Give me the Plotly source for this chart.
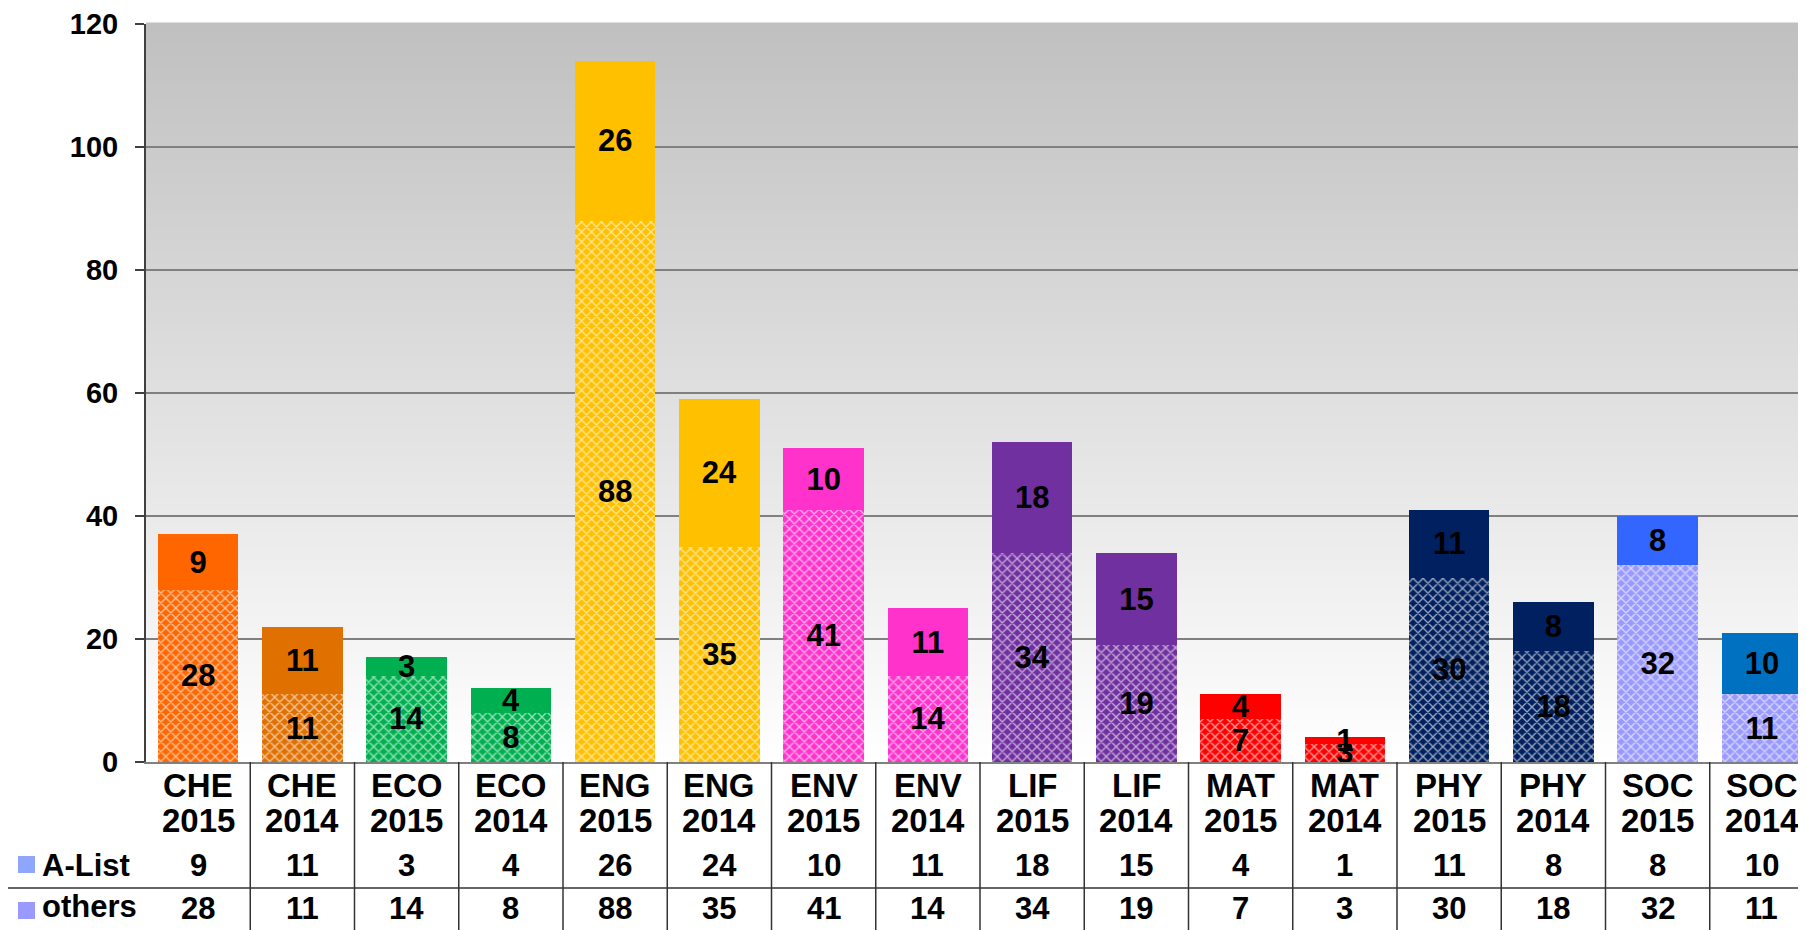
import plotly.graph_objects as go

# ---------------- data ----------------
subjects = ["CHE", "CHE", "ECO", "ECO", "ENG", "ENG", "ENV", "ENV",
            "LIF", "LIF", "MAT", "MAT", "PHY", "PHY", "SOC", "SOC"]
years = ["2015", "2014", "2015", "2014", "2015", "2014", "2015", "2014",
         "2015", "2014", "2015", "2014", "2015", "2014", "2015", "2014"]
categories = [f"{s} {y}" for s, y in zip(subjects, years)]
a_list = [9, 11, 3, 4, 26, 24, 10, 11, 18, 15, 4, 1, 11, 8, 8, 10]
others = [28, 11, 14, 8, 88, 35, 41, 14, 34, 19, 7, 3, 30, 18, 32, 11]
y_ticks = [0, 20, 40, 60, 80, 100, 120]

# ---------------- styles ----------------
a_colors = ["#FF6600", "#E07000", "#00B050", "#00B050", "#FFC000", "#FFC000",
            "#FF33CC", "#FF33CC", "#7030A0", "#7030A0", "#FF0000", "#FF0000",
            "#002060", "#002060", "#3366FF", "#0070C0"]
o_colors = ["#FF6600", "#E07000", "#00B050", "#00B050", "#FFC000", "#FFC000",
            "#FF33CC", "#FF33CC", "#7030A0", "#7030A0", "#FF0000", "#FF0000",
            "#002060", "#002060", "#9999FF", "#9999FF"]

OFF = 8  # default page body margin
W, H = 1806, 930
ML, MR, MT, MB = 146 - OFF, 0, 24 - OFF, 930 - (762 - OFF)
plot_w = W - ML - MR
plot_h = H - MT - MB
plot_bottom = H - MB
XMIN, XMAX = -0.5, len(categories) - 0.5

BOLD = dict(family="Liberation Sans, Arial, sans-serif", color="black", weight="bold")


def py(p):  # page pixel row -> paper y
    return (plot_bottom - (p - OFF)) / plot_h


def px(p):  # page pixel col -> paper x
    return (p - OFF - ML) / plot_w


fig = go.Figure()

fig.add_trace(go.Bar(
    name="others", x=categories, y=others,
    text=[str(v) for v in others],
    textposition="inside", insidetextanchor="middle", textangle=0,
    constraintext="none",
    textfont=dict(size=31, **BOLD),
    marker=dict(color="white", line=dict(width=0),
                pattern=dict(shape="x", fillmode="overlay", bgcolor=o_colors,
                             fgcolor="white", size=7, solidity=0.35,
                             fgopacity=0.6)),
))
fig.add_trace(go.Bar(
    name="A-List", x=categories, y=a_list,
    text=[str(v) for v in a_list],
    textposition="inside", insidetextanchor="middle", textangle=0,
    constraintext="none",
    textfont=dict(size=31, **BOLD),
    marker=dict(color=a_colors, line=dict(width=0)),
))

shapes = []
# gradient background bands
N = 120
for i in range(N):
    f0, f1 = i / N, (i + 1) / N
    fm = (f0 + f1) / 2
    g = int(round(255 - (255 - 192) * fm))
    shapes.append(dict(type="rect", xref="x domain", yref="y domain",
                       x0=0, x1=1, y0=f0, y1=f1 + 0.002,
                       fillcolor=f"rgb({g},{g},{g})", line=dict(width=0),
                       layer="below"))

# table vertical lines (category boundaries)
for i in range(len(categories)):
    xb = i + 0.5
    xp = (xb - XMIN) / (XMAX - XMIN)
    if xp <= 1.0:
        shapes.append(dict(type="line", xref="paper", yref="paper",
                           x0=xp, x1=xp, y0=0, y1=py(H + OFF),
                           line=dict(color="#333333", width=1.5)))
# horizontal line between rows
shapes.append(dict(type="line", xref="paper", yref="paper",
                   x0=px(8), x1=1.0, y0=py(888), y1=py(888),
                   line=dict(color="#333333", width=1.5)))
# legend keys
shapes.append(dict(type="rect", xref="paper", yref="paper",
                   x0=px(18), x1=px(35), y0=py(873), y1=py(856),
                   fillcolor="#8FA6FF", line=dict(width=0)))
shapes.append(dict(type="rect", xref="paper", yref="paper",
                   x0=px(18), x1=px(35), y0=py(919), y1=py(902),
                   fillcolor="#9999FF", line=dict(width=0)))

annotations = []
for c, s, y, a, o in zip(categories, subjects, years, a_list, others):
    for txt, row, size in ((s, 785, 33), (y, 820, 33), (str(a), 866, 31), (str(o), 908, 31)):
        annotations.append(dict(x=c, xref="x", y=py(row), yref="paper",
                                text=txt, showarrow=False,
                                xanchor="center", yanchor="middle",
                                font=dict(size=size, **BOLD)))
for txt, row in (("A-List", 866), ("others", 906)):
    annotations.append(dict(x=px(40), xref="paper", y=py(row), yref="paper",
                            text=txt, showarrow=False,
                            xanchor="left", yanchor="middle",
                            font=dict(size=31, **BOLD)))

fig.update_layout(
    width=W, height=H, autosize=False,
    margin=dict(l=ML, r=MR, t=MT, b=MB, pad=0),
    paper_bgcolor="white", plot_bgcolor="white",
    barmode="stack", bargap=0.226,
    showlegend=False,
    shapes=shapes, annotations=annotations,
    xaxis=dict(type="category", range=[XMIN, XMAX], showticklabels=False,
               ticks="", showgrid=False, showline=True,
               linecolor="#808080", linewidth=2, zeroline=False),
    yaxis=dict(range=[0, 120], tickvals=y_ticks, showgrid=True,
               gridcolor="#808080", gridwidth=1.5, zeroline=False,
               showline=True, linecolor="#404040", linewidth=2,
               ticks="outside", ticklen=9, tickwidth=2, tickcolor="#404040",
               ticklabelstandoff=11,
               tickfont=dict(family="Liberation Sans, Arial, sans-serif",
                             size=29, color="black", weight="bold")),
)

fig.write_html("out.html")
